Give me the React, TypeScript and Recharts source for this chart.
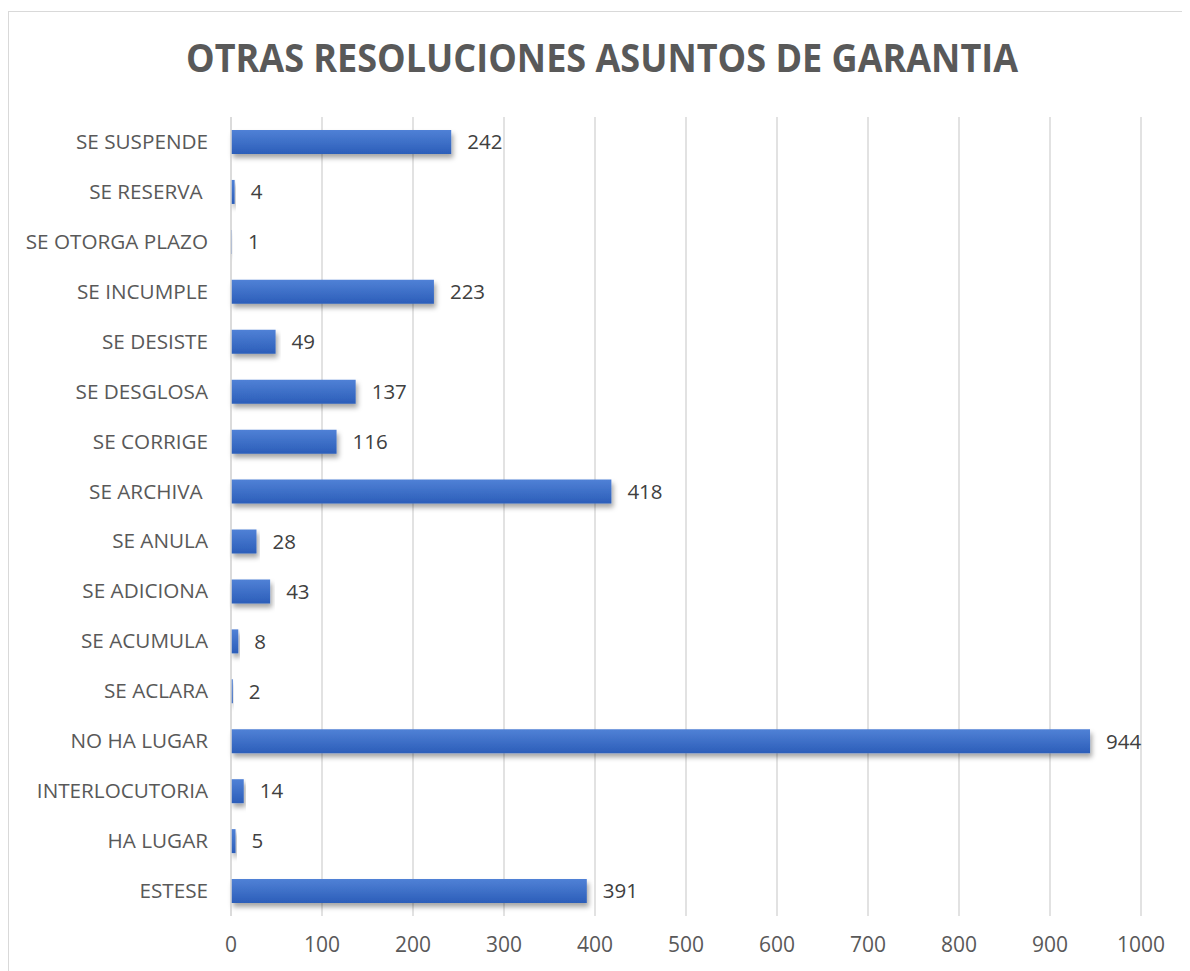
import React from "react";
import { BarChart, Bar, XAxis, YAxis, CartesianGrid, LabelList } from "recharts";

const categories = [
  "SE SUSPENDE",
  "SE RESERVA ",
  "SE OTORGA PLAZO",
  "SE INCUMPLE",
  "SE DESISTE",
  "SE DESGLOSA",
  "SE CORRIGE",
  "SE ARCHIVA ",
  "SE ANULA",
  "SE ADICIONA",
  "SE ACUMULA",
  "SE ACLARA",
  "NO HA LUGAR",
  "INTERLOCUTORIA",
  "HA LUGAR",
  "ESTESE",
];
const values = [242, 4, 1, 223, 49, 137, 116, 418, 28, 43, 8, 2, 944, 14, 5, 391];
const xTicks = [0, 100, 200, 300, 400, 500, 600, 700, 800, 900, 1000];
const title = "OTRAS RESOLUCIONES ASUNTOS DE GARANTIA";

const data = categories.map((name, i) => ({ name, value: values[i] }));

const FONT = "'Open Sans', sans-serif";

const YTick = (props: any) => {
  const { x, y, payload } = props;
  return (
    <text x={x} y={y} dy={7} textAnchor="end" fill="#595959" fontSize={20.7} fontFamily={FONT} style={{ whiteSpace: "pre" }}>
      {payload.value}
    </text>
  );
};

const XTick = (props: any) => {
  const { x, y, payload } = props;
  return (
    <text x={x} y={y} dy={28} textAnchor="middle" fill="#595959" fontSize={21} fontFamily={FONT}>
      {payload.value}
    </text>
  );
};

export default function App() {
  return (
    <div style={{ position: "relative", width: 1182, height: 963, overflow: "hidden", background: "#fff" }}>
      <div
        style={{
          position: "absolute",
          left: 0,
          top: 3,
          width: 1300,
          height: 1100,
          border: "1.5px solid #d9d9d9",
          boxSizing: "border-box",
        }}
      />
      <svg style={{ position: "absolute", left: 0, top: 0 }} width={1182} height={100}>
        <text
          x={178}
          y={64}
          fill="#595959"
          fontSize={40}
          fontWeight="bold"
          fontFamily={FONT}
          textLength={832}
          lengthAdjust="spacingAndGlyphs"
        >
          {title}
        </text>
      </svg>
      <div style={{ position: "absolute", left: 0, top: 0 }}>
        <BarChart
          width={1182}
          height={963}
          data={data}
          layout="vertical"
          margin={{ top: 109, right: 49, bottom: 15, left: 0 }}
          barCategoryGap={13}
        >
          <defs>
            <linearGradient id="barGrad" x1="0" y1="0" x2="0" y2="1">
              <stop offset="0%" stopColor="#5081d6" />
              <stop offset="100%" stopColor="#2c5eb9" />
            </linearGradient>
            <filter id="barShadow" x="-5%" y="-30%" width="115%" height="190%">
              <feDropShadow dx={2} dy={4} stdDeviation={2.5} floodColor="#000" floodOpacity={0.35} />
            </filter>
          </defs>
          <CartesianGrid horizontal={false} stroke="#d9d9d9" strokeWidth={1.5} />
          <XAxis
            type="number"
            domain={[0, 1000]}
            ticks={xTicks}
            axisLine={false}
            tickLine={false}
            height={40}
            tick={<XTick />}
            interval={0}
          />
          <YAxis
            type="category"
            dataKey="name"
            width={223}
            axisLine={{ stroke: "#d9d9d9", strokeWidth: 1.5 }}
            tickLine={false}
            tick={<YTick />}
            tickMargin={17}
            interval={0}
          />
          <Bar dataKey="value" fill="url(#barGrad)" barSize={24} filter="url(#barShadow)" isAnimationActive={false}>
            <LabelList dataKey="value" position="right" offset={16} fill="#404040" fontSize={20.5} fontFamily={FONT} />
          </Bar>
        </BarChart>
      </div>
    </div>
  );
}
